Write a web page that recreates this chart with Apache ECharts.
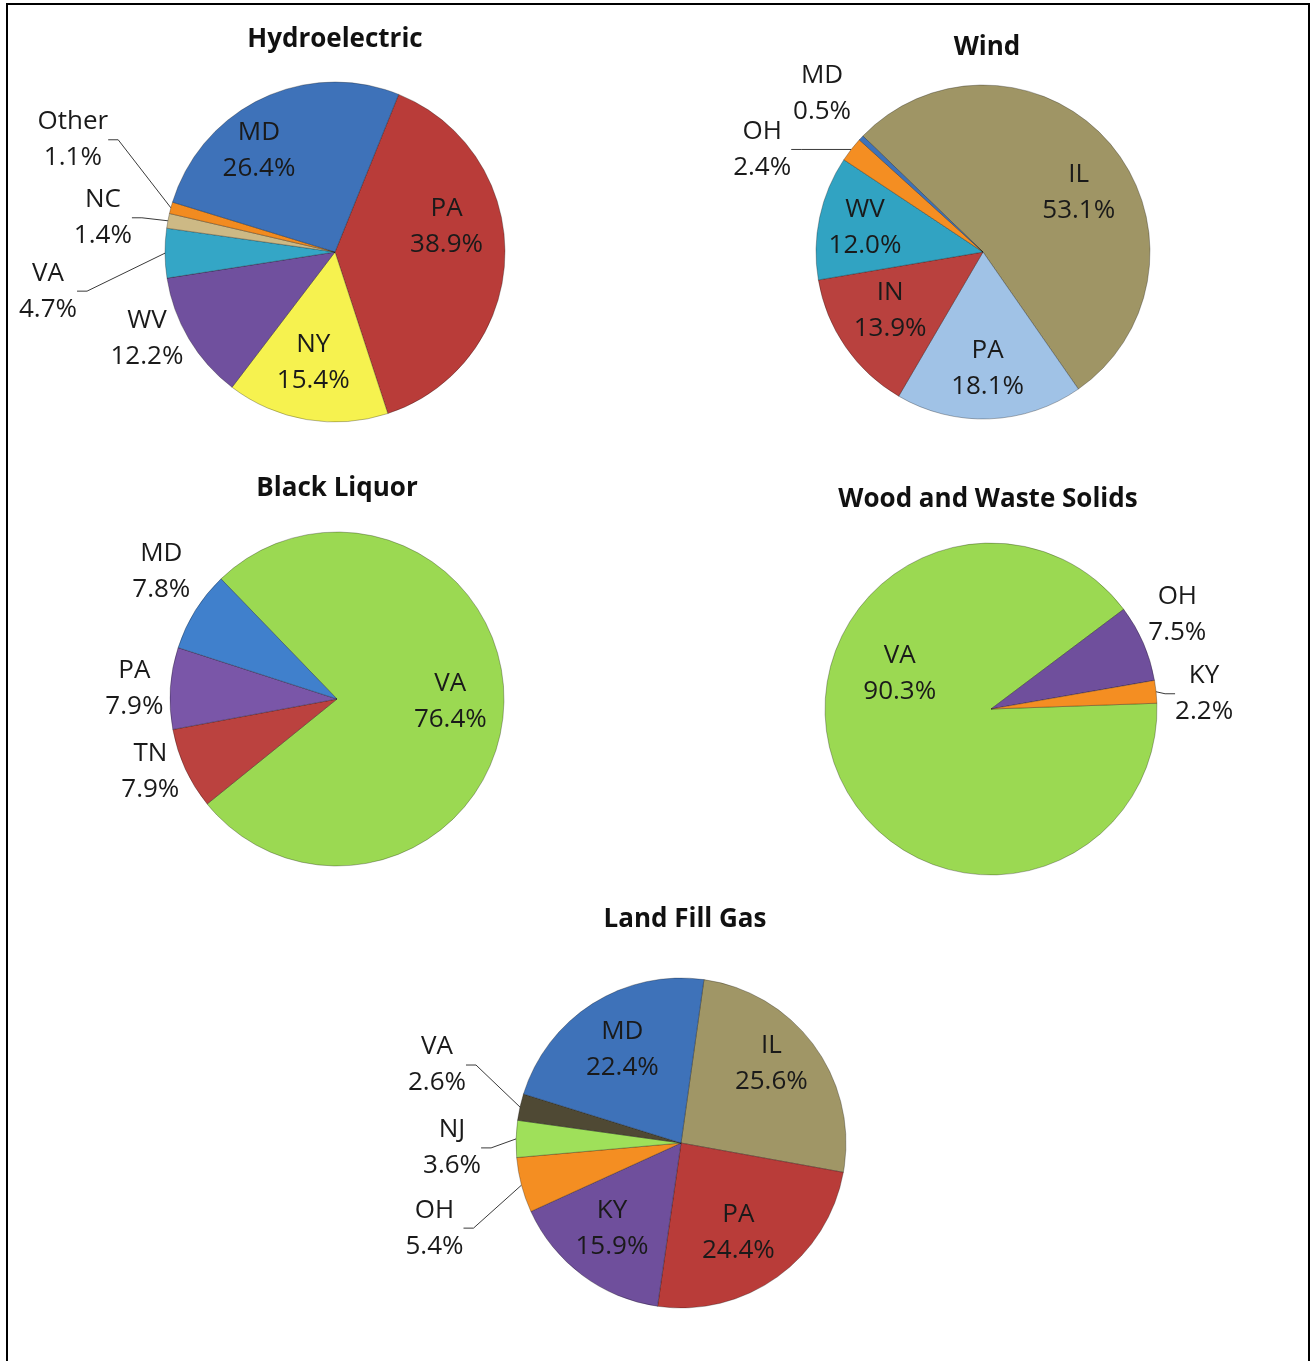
<!DOCTYPE html>
<html>
<head>
<meta charset="utf-8">
<title>Renewable generation by state</title>
<script src="https://cdn.jsdelivr.net/npm/echarts@6/dist/echarts.min.js"></script>
<style>
  html, body { margin: 0; padding: 0; background: #fff; }
  #chart { width: 1314px; height: 1361px; }
</style>
</head>
<body>
<div id="chart"></div>
<script>
// share of each fuel's generation by state (%), listed clockwise from the first slice
const hydroStates = ['PA', 'NY', 'WV', 'VA', 'NC', 'Other', 'MD']
const hydroShares = [38.9, 15.4, 12.2, 4.7, 1.4, 1.1, 26.4]

const windStates = ['IL', 'PA', 'IN', 'WV', 'OH', 'MD']
const windShares = [53.1, 18.1, 13.9, 12.0, 2.4, 0.5]

const liquorStates = ['VA', 'TN', 'PA', 'MD']
const liquorShares = [76.4, 7.9, 7.9, 7.8]

const woodStates = ['VA', 'OH', 'KY']
const woodShares = [90.3, 7.5, 2.2]

const gasStates = ['IL', 'PA', 'KY', 'OH', 'NJ', 'VA', 'MD']
const gasShares = [25.6, 24.4, 15.9, 5.4, 3.6, 2.6, 22.4]

const titles = ['Hydroelectric', 'Wind', 'Black Liquor', 'Wood and Waste Solids', 'Land Fill Gas']

// slice colours, same order as the states above
const hydroColors = ['#b93c39', '#f6f24f', '#70509e', '#34a6c6', '#cdb985', '#f28b20', '#3e72b9']
const windColors = ['#9f9565', '#a0c2e6', '#b9413e', '#31a3c2', '#f48e22', '#3e72b9']
const liquorColors = ['#9bd952', '#bb423f', '#7a56a8', '#4080cc']
const woodColors = ['#9bd952', '#6f4f9c', '#f48e22']
const gasColors = ['#a09666', '#b93c39', '#6f4f9c', '#f48e22', '#9fe05a', '#4f4934', '#3e72b9']

const FONT = '"Open Sans", "Noto Sans", sans-serif'
const labelText = { fontFamily: FONT, fontSize: 26, lineHeight: 36, color: '#1a1a1a' }
const fmt = (p) => p.name + '\n' + p.value.toFixed(1) + '%'

// outside: label centre offset from its slice's rim point; inside: nudge from the ring midpoint
const charts = [
  {
    states: hydroStates, shares: hydroShares, colors: hydroColors,
    center: [335, 252], r: 170, startAngle: 68, title: [335, 27],
    inside: { PA: [-7, -29], NY: [-2, -6], MD: [-25, 6] },
    outside: { WV: [-42, 0], VA: [-117, 38], NC: [-65, -3], Other: [-98, -68] },
    noLine: ['WV'],
  },
  {
    states: windStates, shares: windShares, colors: windColors,
    center: [983, 252], r: 167, startAngle: 136, title: [987, 35],
    inside: { IL: [7, 16], PA: [0, 0], IN: [3, -8], WV: [-4, 0] },
    outside: { OH: [-89, 0], MD: [-39, -44] },
    noLine: ['MD'],
  },
  {
    states: liquorStates, shares: liquorShares, colors: liquorColors,
    center: [337, 699], r: 167, startAngle: 134, title: [337, 476],
    inside: { VA: [-3, -5] },
    outside: { TN: [-35, 3], PA: [-36, 0], MD: [-34, -39] },
    noLine: ['TN', 'PA', 'MD'],
  },
  {
    states: woodStates, shares: woodShares, colors: woodColors,
    center: [991, 709], r: 166, startAngle: 2, title: [988, 487],
    inside: { VA: [18, -74] },
    outside: { OH: [34, -28], KY: [48, 2] },
    noLine: ['OH'],
  },
  {
    states: gasStates, shares: gasShares, colors: gasColors,
    center: [681, 1143], r: 165, startAngle: 82, title: [685, 907],
    inside: { IL: [-3, -12], PA: [-10, -4], KY: [0, -7], MD: [3, 4] },
    outside: { OH: [-87, 43], NJ: [-64, 9], VA: [-83, -42] },
    noLine: [],
  },
]

const series = []
charts.forEach((c) => {
  const base = c.states.map((s, i) => ({ name: s, value: c.shares[i] }))
  // the slices, with the outside labels and their leader lines
  series.push({
    type: 'pie',
    center: c.center,
    radius: [0, c.r],
    startAngle: c.startAngle,
    clockwise: true,
    silent: true,
    animation: false,
    avoidLabelOverlap: false,
    itemStyle: { borderColor: 'rgba(0,0,0,0.28)', borderWidth: 1 },
    label: { show: true, position: 'outside', formatter: fmt, ...labelText },
    labelLine: {
      show: true, length: 8, length2: 10, minTurnAngle: 0, maxSurfaceAngle: 180,
      lineStyle: { color: '#3a3a3a', width: 1 },
    },
    labelLayout: (p) => {
      const off = c.outside[c.states[p.dataIndex]]
      if (!off || !p.labelLinePoints) return {}
      const rim = p.labelLinePoints[0]
      return { x: rim[0] + off[0], y: rim[1] + off[1], align: 'center', verticalAlign: 'middle' }
    },
    data: base.map((d, i) => ({
      ...d,
      itemStyle: { color: c.colors[i] },
      label: { show: !!c.outside[d.name], align: 'center' },
      labelLine: c.noLine.includes(d.name) ? { lineStyle: { opacity: 0 } } : {},
    })),
  })
  // transparent ring carrying the in-slice labels, so they sit further out than mid-radius
  series.push({
    type: 'pie',
    center: c.center,
    radius: [c.r * 0.36, c.r],
    startAngle: c.startAngle,
    clockwise: true,
    silent: true,
    animation: false,
    avoidLabelOverlap: false,
    itemStyle: { color: 'rgba(0,0,0,0)', borderWidth: 0 },
    label: { show: true, position: 'inside', formatter: fmt, ...labelText },
    labelLine: { show: false },
    labelLayout: (p) => {
      const off = c.inside[c.states[p.dataIndex]]
      return off ? { dx: off[0], dy: off[1] } : {}
    },
    data: base.map((d) => ({ ...d, label: { show: !!c.inside[d.name] } })),
  })
})

const chart = echarts.init(document.getElementById('chart'), null, { renderer: 'canvas' })
chart.setOption({
  backgroundColor: '#ffffff',
  animation: false,
  title: charts.map((c, i) => ({
    text: titles[i],
    left: c.title[0],
    top: c.title[1],
    padding: 0,
    textAlign: 'center',
    textStyle: { fontFamily: FONT, fontSize: 26, fontWeight: 'bold', color: '#111' },
  })),
  graphic: [
    {
      type: 'rect',
      shape: { x: 7, y: 4, width: 1302, height: 1362 },
      style: { fill: 'none', stroke: '#000', lineWidth: 2 },
      silent: true,
    },
  ],
  series,
})
</script>
</body>
</html>
